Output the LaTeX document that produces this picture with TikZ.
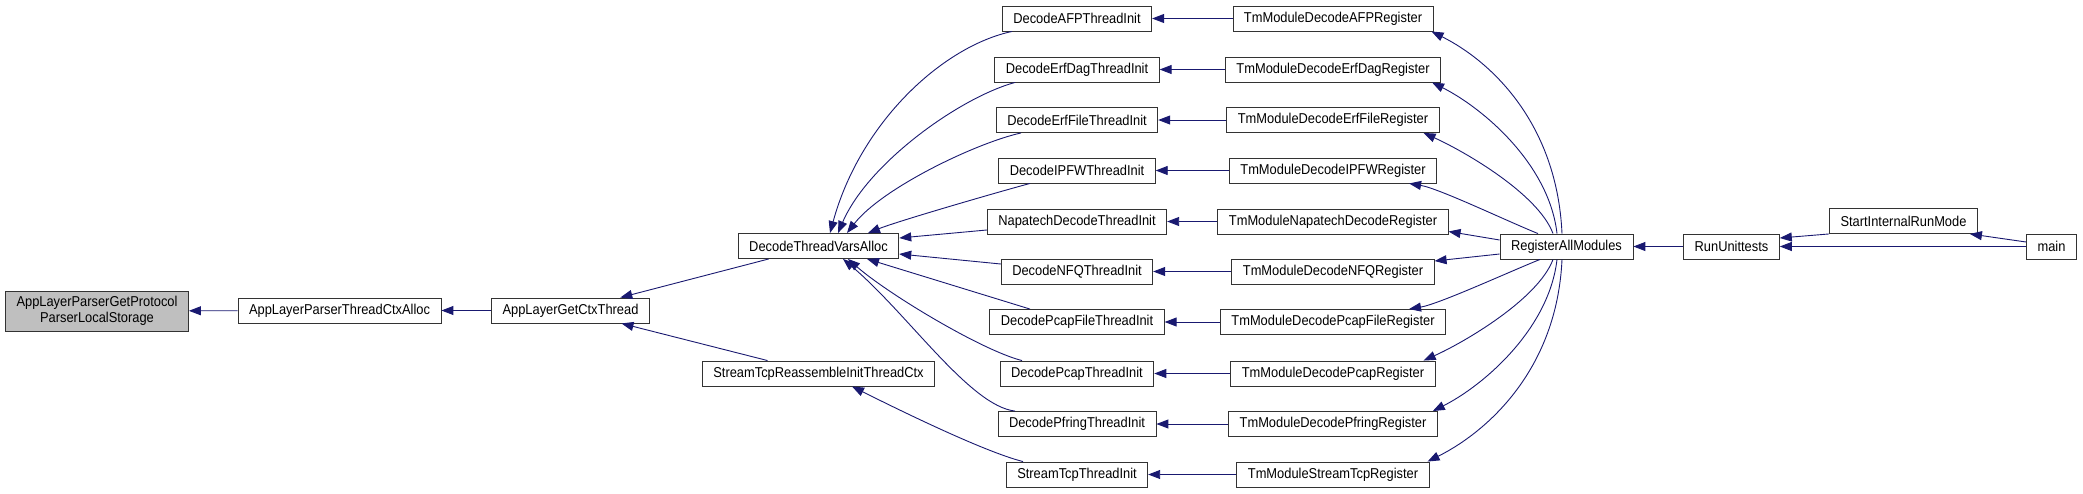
\documentclass[tikz,border=0pt]{standalone}
\usepackage{fontspec}
\setmainfont{Liberation Sans}[FakeStretch=0.9]
\usetikzlibrary{arrows.meta}
\definecolor{edgeblue}{RGB}{25,25,112}
\definecolor{boxgray}{RGB}{191,191,191}

\begin{document}
\begin{tikzpicture}[x=1pt,y=-1pt,
    fn/.style={draw=black!80,line width=0.9pt,fill=white,minimum height=25pt,
        inner xsep=11pt,inner ysep=2pt,font=\fontsize{14.3}{15.5}\selectfont},
    call/.style={draw=edgeblue,line width=0.9pt,-{Triangle[length=12pt,width=9pt]}}]
    \useasboundingbox (0,0) rectangle (2083,493);
    \node[fn,fill=boxgray,align=center,minimum height=40pt] (lstore) at (97,311)
        {AppLayerParserGetProtocol\\ParserLocalStorage};
    \node[fn] (tctx) at (339.5,310.5) {AppLayerParserThreadCtxAlloc};
    \node[fn] (getctx) at (570.5,310.5) {AppLayerGetCtxThread};
    \node[fn] (dtva) at (818.5,246) {DecodeThreadVarsAlloc};
    \node[fn] (strinit) at (818.5,373.5) {StreamTcpReassembleInitThreadCtx};
    \foreach \n/\y/\init/\reg in {
        afp/18.5/DecodeAFPThreadInit/TmModuleDecodeAFPRegister,
        erfdag/69.5/DecodeErfDagThreadInit/TmModuleDecodeErfDagRegister,
        erffile/120/DecodeErfFileThreadInit/TmModuleDecodeErfFileRegister,
        ipfw/170.5/DecodeIPFWThreadInit/TmModuleDecodeIPFWRegister,
        napatech/221.5/NapatechDecodeThreadInit/TmModuleNapatechDecodeRegister,
        nfq/271.5/DecodeNFQThreadInit/TmModuleDecodeNFQRegister,
        pcapfile/322/DecodePcapFileThreadInit/TmModuleDecodePcapFileRegister,
        pcap/373.5/DecodePcapThreadInit/TmModuleDecodePcapRegister,
        pfring/424/DecodePfringThreadInit/TmModuleDecodePfringRegister,
        streamtcp/474.5/StreamTcpThreadInit/TmModuleStreamTcpRegister}{
        \node[fn] (\n) at (1077,\y) {\init};
        \node[fn] (\n-reg) at (1333,\y) {\reg};
        \draw[call] (\n-reg) -- (\n);
    }
    \node[fn] (ram) at (1566.5,246.5) {RegisterAllModules};
    \node[fn] (run) at (1731.5,246.5) {RunUnittests};
    \node[fn] (sirm) at (1903.5,221) {StartInternalRunMode};
    \node[fn] (main) at (2051.5,246.5) {main};

    \draw[call] (tctx) -- (lstore);
    \draw[call] (getctx) -- (tctx);
    \draw[call] (dtva) -- (getctx);
    \draw[call] (strinit) -- (getctx);

    \draw[call] ([xshift=-65pt]afp.south) .. controls +(-70,15) and +(30,-110) .. ([xshift=11.5pt]dtva.north);
    \draw[call] ([xshift=-62pt]erfdag.south) .. controls +(-55,15) and +(30,-70) .. ([xshift=19.5pt]dtva.north);
    \draw[call] ([xshift=-56pt]erffile.south) .. controls +(-45,10) and +(35,-45) .. ([xshift=28.5pt]dtva.north);
    \draw[call] ([xshift=-47pt]ipfw.south) .. controls +(-30,8) and +(30,-12) .. ([xshift=49.5pt]dtva.north);
    \draw[call] ([yshift=-8.5pt]napatech.west) -- ([yshift=8pt]dtva.east);
    \draw[call] ([yshift=7.5pt]nfq.west) -- ([yshift=-8pt]dtva.east);
    \draw[call] ([xshift=-47pt]pcapfile.north) -- ([xshift=48.5pt]dtva.south);
    \draw[call] ([xshift=-55pt]pcap.north) .. controls +(-40,-10) and +(40,35) .. ([xshift=29.5pt]dtva.south);
    \draw[call] ([xshift=-62pt]pfring.north) .. controls +(-45,-5) and +(65,55) .. ([xshift=24.5pt]dtva.south);
    \draw[call] ([xshift=-54pt]streamtcp.north) .. controls +(-40,-10) and +(40,20) .. ([xshift=33.5pt]strinit.south);

    \draw[call] ([xshift=-4.5pt]ram.north) .. controls +(-5,-110) and +(60,30) .. ([xshift=-2pt]afp-reg.south east);
    \draw[call] ([xshift=-9.5pt]ram.north) .. controls +(-8,-70) and +(50,25) .. ([xshift=-9pt]erfdag-reg.south east);
    \draw[call] ([xshift=-13.5pt]ram.north) .. controls +(-15,-40) and +(40,18) .. ([xshift=-16pt]erffile-reg.south east);
    \draw[call] ([xshift=-28.5pt]ram.north) .. controls +(-30,-12) and +(30,5) .. ([xshift=-28pt]ipfw-reg.south east);
    \draw[call] ([yshift=6.5pt]ram.west) -- ([yshift=-10pt]napatech-reg.east);
    \draw[call] ([yshift=-7.5pt]ram.west) -- ([yshift=10.5pt]nfq-reg.east);
    \draw[call] ([xshift=-26.5pt]ram.south) .. controls +(-30,12) and +(30,-5) .. ([xshift=-37pt]pcapfile-reg.north east);
    \draw[call] ([xshift=-13.5pt]ram.south) .. controls +(-15,40) and +(40,-18) .. ([xshift=-12pt]pcap-reg.north east);
    \draw[call] ([xshift=-9.5pt]ram.south) .. controls +(-8,70) and +(50,-25) .. ([xshift=-5pt]pfring-reg.north east);
    \draw[call] ([xshift=-4.5pt]ram.south) .. controls +(-5,110) and +(60,-30) .. ([xshift=-2pt]streamtcp-reg.north east);

    \draw[call] (run) -- (ram);
    \draw[call] (sirm.south west) -- ([yshift=8.5pt]run.east);
    \draw[call] (main) -- (run);
    \draw[call] ([yshift=4.5pt]main.west) -- ([xshift=-8pt]sirm.south east);
\end{tikzpicture}
\end{document}
